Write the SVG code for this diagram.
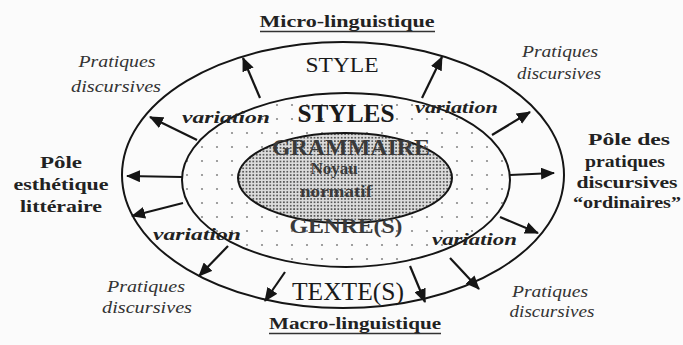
<svg xmlns="http://www.w3.org/2000/svg" width="683" height="345" viewBox="0 0 683 345">
<defs>
<style>
.ell{fill:none;stroke:#151515;stroke-width:2}
.arr{stroke:#151515;stroke-width:2.2;fill:none;marker-end:url(#ah)}
.cap{font-family:"Liberation Serif","Times New Roman",serif;fill:#1a1a1a;text-anchor:middle}
.inner{font-family:"Liberation Serif","Times New Roman",serif;fill:#3a3a3a;text-anchor:middle;font-weight:bold}
.pole{font-family:"Liberation Serif","Times New Roman",serif;font-weight:bold;font-size:16px;fill:#222;text-anchor:middle}
.prat{font-family:"Liberation Serif","Times New Roman",serif;font-style:italic;font-size:17px;fill:#333;text-anchor:middle}
.var{font-family:"Liberation Serif","Times New Roman",serif;font-style:italic;font-weight:bold;font-size:17px;fill:#222}
.ul{stroke:#333;stroke-width:1.3}
</style>
<marker id="ah" viewBox="0 0 14 12" refX="13" refY="6" markerWidth="14" markerHeight="12" markerUnits="userSpaceOnUse" orient="auto">
<path d="M0,0 L14,6 L0,12 z" fill="#151515"/>
</marker>
<pattern id="dots" width="15" height="14" patternUnits="userSpaceOnUse">
<circle cx="7" cy="7" r="1.1" fill="#8a8a8a"/>
</pattern>
<pattern id="dense" width="3.4" height="3.4" patternUnits="userSpaceOnUse">
<rect width="3.4" height="3.4" fill="#dcdcdc"/>
<circle cx="1.7" cy="1.7" r="0.95" fill="#3c3c3c"/>
</pattern>
</defs>
<rect width="683" height="345" fill="#fbfbfb"/>

<g id="outer">
<ellipse class="ell" cx="343" cy="175" rx="221" ry="133"/>
<text class="cap" x="342" y="72" font-size="22" textLength="73" lengthAdjust="spacingAndGlyphs">STYLE</text>
<text class="cap" x="348" y="300" font-size="25" textLength="112" lengthAdjust="spacingAndGlyphs">TEXTE(S)</text>
</g>

<g id="middle">
<ellipse cx="346" cy="180" rx="164" ry="87" fill="url(#dots)" stroke="#151515" stroke-width="2"/>
<text class="cap" x="346" y="122" font-size="25" font-weight="bold" textLength="97" lengthAdjust="spacingAndGlyphs">STYLES</text>
</g>

<g id="inner">
<ellipse cx="345" cy="178" rx="107" ry="45" fill="url(#dense)" stroke="#151515" stroke-width="2"/>
<text class="inner" x="351" y="155" font-size="23" textLength="158" lengthAdjust="spacingAndGlyphs">GRAMMAIRE</text>
<text class="inner" x="334" y="174" font-size="17">Noyau</text>
<text class="inner" x="336" y="197" font-size="17" textLength="72" lengthAdjust="spacingAndGlyphs">normatif</text>
<text class="inner" x="346" y="233" font-size="22" textLength="113" lengthAdjust="spacingAndGlyphs">GENRE(S)</text>
</g>

<g id="micro">
<text class="pole" x="347" y="27" font-size="17" textLength="175" lengthAdjust="spacingAndGlyphs">Micro-linguistique</text>
<line class="ul" x1="260" y1="31.5" x2="435" y2="31.5"/>
</g>
<g id="macro">
<text class="pole" x="355" y="329" font-size="17" textLength="172" lengthAdjust="spacingAndGlyphs">Macro-linguistique</text>
<line class="ul" x1="269" y1="333.5" x2="441" y2="333.5"/>
</g>

<g id="pole-esthetique">
<text class="pole" x="61" y="168" textLength="42" lengthAdjust="spacingAndGlyphs">Pôle</text>
<text class="pole" x="61" y="190" textLength="95" lengthAdjust="spacingAndGlyphs">esthétique</text>
<text class="pole" x="61" y="212" textLength="82" lengthAdjust="spacingAndGlyphs">littéraire</text>
</g>

<g id="pole-ordinaires">
<text class="pole" x="629" y="145" textLength="82" lengthAdjust="spacingAndGlyphs">Pôle des</text>
<text class="pole" x="625" y="167" textLength="80" lengthAdjust="spacingAndGlyphs">pratiques</text>
<text class="pole" x="627" y="188" textLength="101" lengthAdjust="spacingAndGlyphs">discursives</text>
<text class="pole" x="627" y="208" textLength="108" lengthAdjust="spacingAndGlyphs">“ordinaires”</text>
</g>

<g id="pratiques-tl">
<text class="prat" x="117" y="67" textLength="77" lengthAdjust="spacingAndGlyphs">Pratiques</text>
<text class="prat" x="116" y="92" textLength="90" lengthAdjust="spacingAndGlyphs">discursives</text>
</g>
<g id="pratiques-tr">
<text class="prat" x="560" y="57" textLength="76" lengthAdjust="spacingAndGlyphs">Pratiques</text>
<text class="prat" x="559" y="79" textLength="84" lengthAdjust="spacingAndGlyphs">discursives</text>
</g>
<g id="pratiques-bl">
<text class="prat" x="146" y="292" textLength="78" lengthAdjust="spacingAndGlyphs">Pratiques</text>
<text class="prat" x="147" y="313" textLength="90" lengthAdjust="spacingAndGlyphs">discursives</text>
</g>
<g id="pratiques-br">
<text class="prat" x="550" y="297" textLength="76" lengthAdjust="spacingAndGlyphs">Pratiques</text>
<text class="prat" x="552" y="317" textLength="85" lengthAdjust="spacingAndGlyphs">discursives</text>
</g>

<g id="variations">
<text class="var" x="182" y="123" textLength="88" lengthAdjust="spacingAndGlyphs">variation</text>
<text class="var" x="415" y="113" textLength="83" lengthAdjust="spacingAndGlyphs">variation</text>
<text class="var" x="153" y="240" textLength="88" lengthAdjust="spacingAndGlyphs">variation</text>
<text class="var" x="432" y="245" textLength="85" lengthAdjust="spacingAndGlyphs">variation</text>
</g>

<g id="connectors">
<line class="arr" x1="260" y1="98" x2="243" y2="58"/>
<line class="arr" x1="422" y1="98" x2="442" y2="57"/>
<line class="arr" x1="197" y1="140" x2="150" y2="117"/>
<line class="arr" x1="492" y1="135" x2="530" y2="112"/>
<line class="arr" x1="182" y1="177" x2="127" y2="176"/>
<line class="arr" x1="510" y1="175" x2="554" y2="173"/>
<line class="arr" x1="183" y1="203" x2="132" y2="216"/>
<line class="arr" x1="500" y1="217" x2="538" y2="233"/>
<line class="arr" x1="228" y1="246" x2="199" y2="276"/>
<line class="arr" x1="450" y1="258" x2="479" y2="289"/>
<line class="arr" x1="285" y1="272" x2="265" y2="301"/>
<line class="arr" x1="410" y1="266" x2="425" y2="302"/>
</g>
</svg>
